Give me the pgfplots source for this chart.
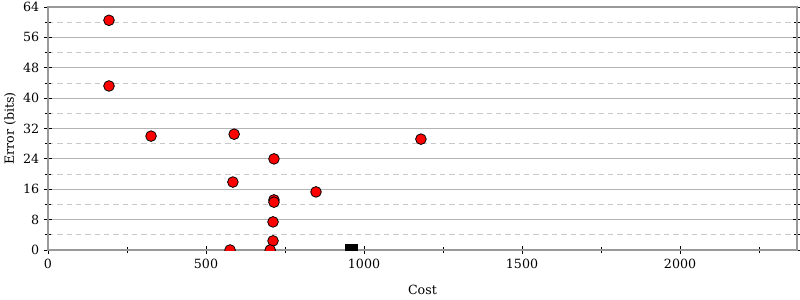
\documentclass[border=0pt]{standalone}
\usepackage{fontspec}
\setmainfont{DejaVu Serif}
\usepackage{pgfplots}
\pgfplotsset{compat=1.18}
\definecolor{gridmaj}{HTML}{B4B4B4}
\definecolor{gridmin}{HTML}{C8C8C8}
\definecolor{axisgray}{HTML}{999999}
\begin{document}
\begin{tikzpicture}
\useasboundingbox (-36pt,-37.5pt) rectangle (564pt,187.5pt);
\begin{axis}[
  scale only axis,
  width=561.75pt, height=182.25pt,
  at={(0,0)}, anchor=south west,
  xmin=0, xmax=2370, ymin=0, ymax=64,
  xtick={0,500,1000,1500,2000},
  minor xtick={250,750,1250,1750,2250},
  ytick={0,8,16,24,32,40,48,56,64},
  minor ytick={4,12,20,28,36,44,52,60},
  ymajorgrids, yminorgrids,
  major grid style={gridmaj, line width=0.8pt},
  minor grid style={gridmin, dashed, dash pattern=on 4pt off 3pt, line width=0.6pt},
  tick align=center,
  major tick length=6pt,
  minor tick length=4pt,
  every tick/.style={black, line width=0.6pt},
  xtick pos=bottom,
  ytick pos=both,
  axis line style={axisgray, line width=1.5pt},
  /pgf/number format/assume math mode=true,
  /pgf/number format/1000 sep={},
  tick label style={font=\fontsize{9.5}{11}\selectfont},
  label style={font=\fontsize{9.5}{11}\selectfont},
  xlabel={Cost},
  ylabel={Error (bits)},
  x label style={at={(axis description cs:0.5,-0.165)}, anchor=center},
  y label style={at={(axis description cs:-0.0507,0.5)}, anchor=center, rotate=0},
  clip marker paths=true,
]
\addplot[only marks, mark=*, mark size=4pt, mark options={fill=red, draw=black, line width=0.6pt}] coordinates {
  (193,60.5) (193,43.2) (326,30.0) (589,30.5) (1180,29.2)
  (715,24.0) (585,17.9) (848,15.3) (715,13.2) (715,12.6)
  (712,7.4) (712,2.4) (576,0) (703,0)
};
\addplot[only marks, mark=square*, mark size=4.5pt, mark options={fill=black, draw=black}] coordinates {
  (960,0)
};
\end{axis}
\end{tikzpicture}
\end{document}
